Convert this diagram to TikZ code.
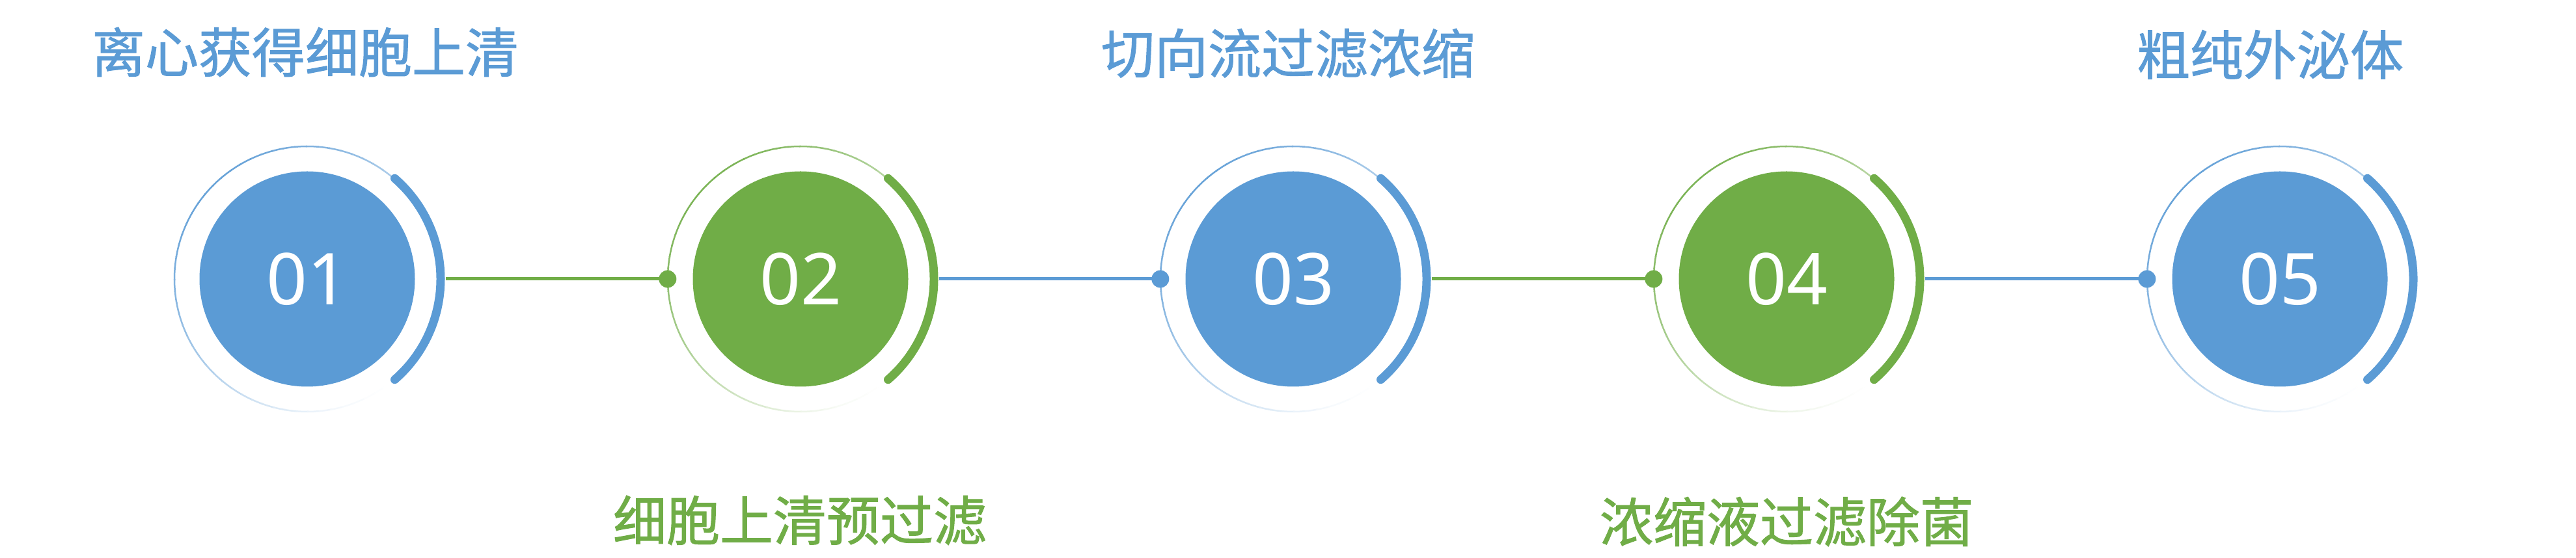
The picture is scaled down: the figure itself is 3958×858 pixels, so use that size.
\documentclass[tikz,border=0pt]{standalone}
\usepackage{fontspec}
\setmainfont{Noto Sans}
\newfontfamily\cjk[FakeBold=1.2]{Noto Sans CJK SC}
\usetikzlibrary{calc}
\definecolor{sblue}{RGB}{91,155,213}
\definecolor{sgreen}{RGB}{112,173,71}
\tikzset{
  disc/.style={circle, fill=#1, minimum size=331pt, inner sep=0pt, text=white,
    font=\fontsize{110}{110}\selectfont},
  ringnode/.style={circle, minimum size=408pt, inner sep=0pt},
  steptext/.style={text=#1, font=\cjk\fontsize{82}{82}\selectfont, inner sep=0pt},
  conn/.style={draw=#1, line width=5pt},
  dotmark/.style={circle, fill=#1, minimum size=27pt, inner sep=0pt},
  thickarc/.style={draw=#1, line width=13pt, line cap=round},
}
\begin{document}
\begin{tikzpicture}[x=1pt,y=1pt]
\useasboundingbox (0,0) rectangle (3958,858);
\foreach \i/\x/\c/\n in {1/472/sblue/01,2/1230/sgreen/02,3/1987/sblue/03,4/2745/sgreen/04,5/3503/sblue/05}{
  \node[ringnode] (r\i) at (\x,429) {};
  \foreach \a in {0,5,...,355}{
    \pgfmathtruncatemacro\p{round(46*(1+cos(\a+2.5-135)))}
    \draw[draw=\c!\p!white, line width=2.5pt] (r\i.center) ++(\a:204pt) arc[start angle=\a, end angle=\a+5.6, radius=204pt];
  }
  \draw[thickarc=\c] (r\i.center) ++(-49:205pt) arc[start angle=-49, end angle=49, radius=205pt];
  \node[disc=\c] (c\i) at (\x,429) {\n};
}
\foreach \i/\j/\c in {1/2/sgreen,2/3/sblue,3/4/sgreen,4/5/sblue}{
  \coordinate (s\i) at ($(c\i.center)+(213pt,0)$);
  \draw[conn=\c] (s\i) -- (r\j.west);
  \node[dotmark=\c] (d\j) at (r\j.west) {};
}
\node[steptext=sblue] (t1) at (469,778) {离心获得细胞上清};
\node[steptext=sgreen] (t2) at (1229,58) {细胞上清预过滤};
\node[steptext=sblue] (t3) at (1979,776) {切向流过滤浓缩};
\node[steptext=sgreen] (t4) at (2745,56) {浓缩液过滤除菌};
\node[steptext=sblue] (t5) at (3488,774) {粗纯外泌体};
\end{tikzpicture}
\end{document}
